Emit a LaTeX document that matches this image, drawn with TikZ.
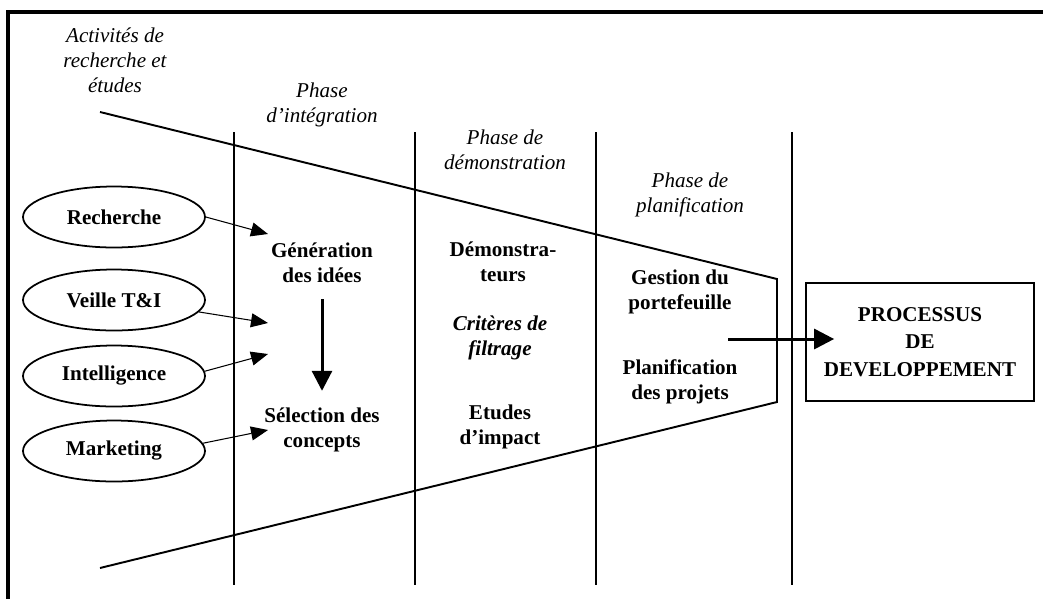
\documentclass[tikz,border=0pt]{standalone}
\usepackage{fontspec}
\setmainfont{Liberation Serif}
\usetikzlibrary{arrows.meta,shapes.geometric}

\begin{document}
\begin{tikzpicture}[x=0.02cm,y=-0.02cm,
        source/.style={draw,ellipse,line width=1pt,minimum width=3.64cm,minimum height=1.22cm,inner sep=0pt,font=\fontsize{12}{14}\selectfont\bfseries},
        phase/.style={align=center,inner sep=0pt,font=\fontsize{12}{14.2}\selectfont\itshape},
        task/.style={align=center,inner sep=0pt,font=\fontsize{12}{14}\selectfont\bfseries},
        feed/.style={-{Triangle[length=0.34cm,width=0.28cm]},line width=0.6pt},
        flow/.style={-{Triangle[length=0.4cm,width=0.4cm]},line width=1.7pt}]
        
        \useasboundingbox (0,0) rectangle (1043,599);
        \draw[line width=2.1pt] (1043,12) -- (8,12) -- (8,599);
        
        % entonnoir et colonnes
        \draw[line width=1.1pt] (100,112) -- (777,279) -- (777,402) -- (100,568);
        \foreach \x in {234,415,596,792}
        \draw[line width=0.8pt] (\x,132) -- (\x,585);
        
        \node[phase] (act) at (115,60) {Activités de\\recherche et\\études};
        \node[phase] (pint) at (322,105) {Phase\\d'intégration};
        \node[phase] (pdem) at (505,150) {Phase de\\démonstration};
        \node[phase] (ppla) at (690,195) {Phase de\\planification};
        
        \node[source] (rech) at (114,217) {Recherche};
        \node[source] (veil) at (114,300) {Veille T\&I};
        \node[source] (intl) at (114,376) {Intelligence};
        \node[source] (mark) at (114,451) {Marketing};
        
        \node[task] (gen) at (322,263) {Génération\\des idées};
        \node[task] (sel) at (322,430) {Sélection des\\concepts};
        \node[task] (dem) at (503,262) {Démonstra-\\teurs};
        \node[task,font=\fontsize{12}{14}\selectfont\bfseries\itshape] (crit) at (500,338) {Critères de\\filtrage};
        \node[task] (etu) at (500,427) {Etudes\\d'impact};
        \node[task] (ges) at (680,292) {Gestion du\\portefeuille};
        \node[task] (pla) at (680,382) {Planification\\des projets};
        
        \node[draw,line width=1pt,minimum width=4.56cm,minimum height=2.36cm,align=center,
        font=\fontsize{12}{15.5}\selectfont\bfseries] (proc) at (920,342) {PROCESSUS\\DE\\DEVELOPPEMENT};
        
        \coordinate (t1) at (268,234);
        \coordinate (t2) at (268,323);
        \coordinate (t3) at (268,354);
        \coordinate (t4) at (268,430);
        \coordinate (out) at (728,339);
        
        \draw[feed] (rech.east) -- (t1);
        \draw[feed] (veil.-8) -- (t2);
        \draw[feed] (intl.3) -- (t3);
        \draw[feed] (mark.5) -- (t4);
        
        \draw[flow,shorten <=0.32cm,shorten >=0.34cm] (gen.south) -- (sel.north);
        \draw[flow] (out) -- ([xshift=0.58cm]proc.west |- out);
        
\end{tikzpicture}
\end{document}
